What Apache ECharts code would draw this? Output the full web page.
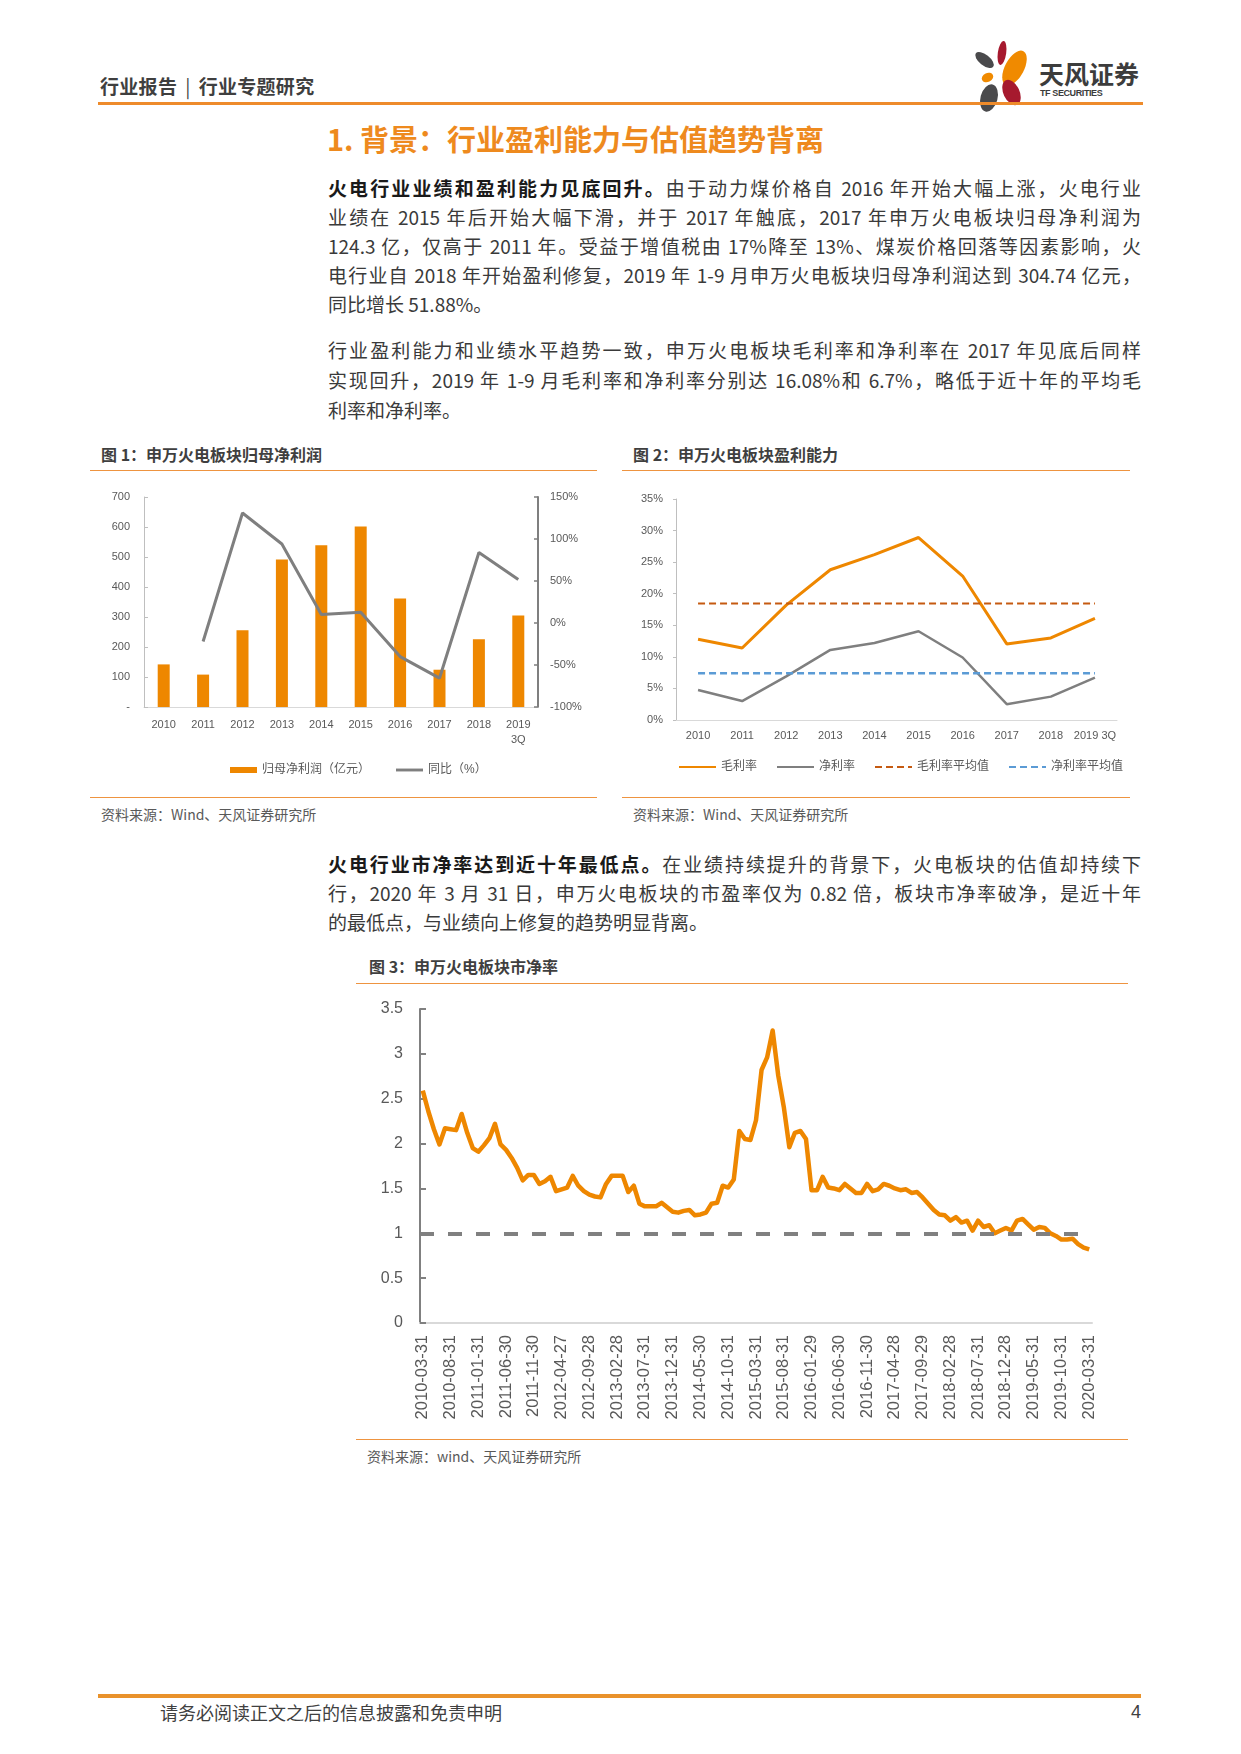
<!DOCTYPE html>
<html><head><meta charset="utf-8">
<script src="https://cdn.jsdelivr.net/npm/echarts@6/dist/echarts.min.js"></script>
<style>
html,body{margin:0;padding:0;background:#fff;}
body{width:1241px;height:1754px;position:relative;overflow:hidden;font-family:"Noto Sans CJK SC","Liberation Sans",sans-serif;}
.abs{position:absolute;}
.hr{position:absolute;background:#EE9440;}
.ln{position:absolute;left:328px;width:813px;height:29px;line-height:29px;font-size:19px;color:#3a3a3a;}
.j{text-align:justify;text-align-last:justify;}
.ln b{color:#1a1a1a;font-weight:bold;}
.ct{position:absolute;font-size:16px;font-weight:bold;color:#3f3f3f;line-height:20px;height:20px;white-space:nowrap;}
.src{position:absolute;font-size:14px;color:#595959;line-height:18px;height:18px;white-space:nowrap;}
</style></head>
<body>
<!-- header -->
<div class="abs" style="left:100px;top:74px;font-size:19px;font-weight:bold;color:#3f3f3f;line-height:24px;white-space:nowrap;letter-spacing:0.3px;">行业报告<span style="font-weight:normal;margin:0 8px;">|</span>行业专题研究</div>
<svg class="abs" style="left:968px;top:36px;" width="64" height="80" viewBox="968 36 64 80">
  <ellipse cx="1002" cy="53" rx="4.2" ry="12" fill="#A6192E" transform="rotate(8 1002 53)"/>
  <ellipse cx="984.5" cy="60" rx="11" ry="5.3" fill="#4A4A4C" transform="rotate(38 984.5 60)"/>
  <ellipse cx="1014.5" cy="68" rx="9.5" ry="19" fill="#F08A00" transform="rotate(28 1014.5 68)"/>
  <ellipse cx="987.5" cy="77.5" rx="6" ry="4.5" fill="#F08A00" transform="rotate(-25 987.5 77.5)"/>
  <ellipse cx="989" cy="98" rx="8.5" ry="14" fill="#4A4A4C" transform="rotate(15 989 98)"/>
  <ellipse cx="1011.5" cy="92.5" rx="8" ry="13.5" fill="#A6192E" transform="rotate(-25 1011.5 92.5)"/>
</svg>
<div class="abs" style="left:1039px;top:58px;font-size:25px;font-weight:bold;color:#3c3c3c;line-height:30px;white-space:nowrap;">天风证券</div>
<div class="abs" style="left:1040px;top:88px;font-size:9px;font-weight:bold;color:#3c3c3c;line-height:11px;letter-spacing:-0.4px;font-family:'Liberation Sans',sans-serif;white-space:nowrap;">TF SECURITIES</div>
<div class="hr" style="left:98px;top:102px;width:1045px;height:3px;background:#EE8B2B;"></div>

<!-- section title -->
<div class="abs" style="left:327px;top:120px;font-size:29px;font-weight:bold;color:#EE8A1E;line-height:36px;white-space:nowrap;">1. 背景：行业盈利能力与估值趋势背离</div>

<!-- paragraph 1 -->
<div class="ln j" style="top:173px;"><b>火电行业业绩和盈利能力见底回升。</b>由于动力煤价格自 2016 年开始大幅上涨，火电行业</div>
<div class="ln j" style="top:202px;">业绩在 2015 年后开始大幅下滑，并于 2017 年触底，2017 年申万火电板块归母净利润为</div>
<div class="ln j" style="top:231px;">124.3 亿，仅高于 2011 年。受益于增值税由 17%降至 13%、煤炭价格回落等因素影响，火</div>
<div class="ln j" style="top:260px;">电行业自 2018 年开始盈利修复，2019 年 1-9 月申万火电板块归母净利润达到 304.74 亿元，</div>
<div class="ln" style="top:289px;">同比增长 51.88%。</div>
<!-- paragraph 2 -->
<div class="ln j" style="top:335px;">行业盈利能力和业绩水平趋势一致，申万火电板块毛利率和净利率在 2017 年见底后同样</div>
<div class="ln j" style="top:365px;">实现回升，2019 年 1-9 月毛利率和净利率分别达 16.08%和 6.7%，略低于近十年的平均毛</div>
<div class="ln" style="top:395px;">利率和净利率。</div>

<!-- figure 1 & 2 frames -->
<div class="ct" style="left:101px;top:444px;">图 1：申万火电板块归母净利润</div>
<div class="hr" style="left:90px;top:470px;width:507px;height:1px;"></div>
<div class="hr" style="left:90px;top:797px;width:507px;height:1px;"></div>
<div class="src" style="left:101px;top:805px;">资料来源：Wind、天风证券研究所</div>

<div class="ct" style="left:633px;top:444px;">图 2：申万火电板块盈利能力</div>
<div class="hr" style="left:622px;top:470px;width:508px;height:1px;"></div>
<div class="hr" style="left:622px;top:797px;width:508px;height:1px;"></div>
<div class="src" style="left:633px;top:805px;">资料来源：Wind、天风证券研究所</div>

<div id="c1" class="abs" style="left:92px;top:475px;width:505px;height:320px;"></div>
<div id="c2" class="abs" style="left:622px;top:475px;width:508px;height:320px;"></div>

<!-- paragraph 3 -->
<div class="ln j" style="top:849px;"><b>火电行业市净率达到近十年最低点。</b>在业绩持续提升的背景下，火电板块的估值却持续下</div>
<div class="ln j" style="top:878px;">行，2020 年 3 月 31 日，申万火电板块的市盈率仅为 0.82 倍，板块市净率破净，是近十年</div>
<div class="ln" style="top:907px;">的最低点，与业绩向上修复的趋势明显背离。</div>

<!-- figure 3 -->
<div class="ct" style="left:369px;top:956px;">图 3：申万火电板块市净率</div>
<div class="hr" style="left:356px;top:983px;width:772px;height:1px;"></div>
<div id="c3" class="abs" style="left:356px;top:985px;width:772px;height:453px;"></div>
<div class="hr" style="left:356px;top:1439px;width:772px;height:1px;"></div>
<div class="src" style="left:367px;top:1447px;">资料来源：wind、天风证券研究所</div>

<!-- footer -->
<div class="hr" style="left:98px;top:1694px;width:1043px;height:4px;background:#E9922B;"></div>
<div class="abs" style="left:160px;top:1700px;font-size:18px;color:#404040;line-height:24px;white-space:nowrap;">请务必阅读正文之后的信息披露和免责申明</div>
<div class="abs" style="left:1100px;width:41px;text-align:right;top:1700px;font-size:18px;color:#404040;line-height:24px;font-family:'Liberation Sans',sans-serif;">4</div>

<script>
// ---------- Figure 1 data ----------
const c1Years = ['2010','2011','2012','2013','2014','2015','2016','2017','2018','2019\n3Q'];
const c1Profit = [142, 108, 256, 492, 539, 602, 362, 124.3, 226, 304.74];
const c1Yoy = [null, -22, 131, 94, 10, 12.7, -40, -65.7, 84, 51.88];
const c1LeftTicks = [0, 700, 100];
const c1RightTicks = [-100, 150, 50];

// ---------- Figure 2 data ----------
const c2Years = ['2010','2011','2012','2013','2014','2015','2016','2017','2018','2019 3Q'];
const c2Gross = [12.8, 11.4, 18.2, 23.8, 26.2, 28.9, 22.8, 12.05, 13.0, 16.08];
const c2Net = [4.76, 3.0, 6.9, 11.1, 12.2, 14.06, 9.9, 2.5, 3.7, 6.7];
const c2GrossAvg = [18.45, 18.45, 18.45, 18.45, 18.45, 18.45, 18.45, 18.45, 18.45, 18.45];
const c2NetAvg = [7.4, 7.4, 7.4, 7.4, 7.4, 7.4, 7.4, 7.4, 7.4, 7.4];

// ---------- Figure 3 data ----------
const c3Dates = [
'2010-03-31','2010-04-30','2010-05-31','2010-06-30','2010-07-30','2010-08-31','2010-09-30','2010-10-29','2010-11-30','2010-12-31',
'2011-01-31','2011-02-28','2011-03-31','2011-04-29','2011-05-31','2011-06-30','2011-07-29','2011-08-31','2011-09-30','2011-10-31','2011-11-30','2011-12-30',
'2012-01-31','2012-02-29','2012-03-30','2012-04-27','2012-05-31','2012-06-29','2012-07-31','2012-08-31','2012-09-28','2012-10-31','2012-11-30','2012-12-31',
'2013-01-31','2013-02-28','2013-03-29','2013-04-26','2013-05-31','2013-06-28','2013-07-31','2013-08-30','2013-09-30','2013-10-31','2013-11-29','2013-12-31',
'2014-01-30','2014-02-28','2014-03-31','2014-04-30','2014-05-30','2014-06-30','2014-07-31','2014-08-29','2014-09-30','2014-10-31','2014-11-28','2014-12-31',
'2015-01-30','2015-02-27','2015-03-31','2015-04-30','2015-05-29','2015-06-30','2015-07-31','2015-08-31','2015-09-30','2015-10-30','2015-11-30','2015-12-31',
'2016-01-29','2016-02-29','2016-03-31','2016-04-29','2016-05-31','2016-06-30','2016-07-29','2016-08-31','2016-09-30','2016-10-31','2016-11-30','2016-12-30',
'2017-01-26','2017-02-28','2017-03-31','2017-04-28','2017-05-31','2017-06-30','2017-07-31','2017-08-31','2017-09-29','2017-10-31','2017-11-30','2017-12-29',
'2018-01-31','2018-02-28','2018-03-30','2018-04-27','2018-05-31','2018-06-29','2018-07-31','2018-08-31','2018-09-28','2018-10-31','2018-11-30','2018-12-28',
'2019-01-31','2019-02-28','2019-03-29','2019-04-30','2019-05-31','2019-06-28','2019-07-31','2019-08-30','2019-09-30','2019-10-31','2019-11-29','2019-12-31',
'2020-01-23','2020-02-28','2020-03-31'
];
const c3PB = [
2.59,2.36,2.16,1.99,2.17,2.16,2.15,2.33,2.12,1.95,
1.91,1.98,2.06,2.22,1.99,1.93,1.84,1.73,1.59,1.65,1.65,1.55,
1.58,1.63,1.47,1.49,1.51,1.64,1.53,1.47,1.43,1.41,1.40,1.55,
1.64,1.64,1.64,1.46,1.53,1.33,1.30,1.30,1.30,1.34,1.29,1.24,
1.23,1.25,1.26,1.20,1.21,1.23,1.33,1.34,1.53,1.51,1.60,2.14,
2.05,2.04,2.26,2.82,2.96,3.26,2.76,2.41,1.96,2.12,2.14,2.05,
1.48,1.48,1.63,1.51,1.50,1.48,1.55,1.50,1.45,1.45,1.55,1.47,
1.49,1.55,1.53,1.50,1.48,1.49,1.45,1.46,1.40,1.33,1.26,1.21,
1.20,1.14,1.18,1.12,1.14,1.03,1.14,1.07,1.09,1.00,1.03,1.06,
1.03,1.14,1.16,1.10,1.04,1.07,1.06,1.00,0.97,0.93,0.93,0.94,
0.88,0.84,0.82
];
const c3Ticks = [0, 3.5, 0.5];
const c3Reference = 1;

const FONT = "'Liberation Sans','Noto Sans CJK SC',sans-serif";
const ORANGE = '#EE8700';
const GRAY = '#7F7F7F';
const LBL = '#595959';

// ---------- Chart 1 ----------
const ch1 = echarts.init(document.getElementById('c1'), null, {renderer:'canvas'});
ch1.setOption({
  animation:false,
  textStyle:{fontFamily:FONT},
  grid:{left:52, right:59, top:22, height:210},
  legend:{
    left:133, top:284, itemGap:26, itemWidth:27, itemHeight:6,
    textStyle:{fontSize:12, color:LBL, fontFamily:FONT},
    data:[{name:'归母净利润（亿元）', icon:'rect'},{name:'同比（%）', icon:'path://M0,0H28V3H0Z'}]
  },
  xAxis:{
    type:'category', data:c1Years, boundaryGap:true,
    axisLine:{lineStyle:{color:'#D9D9D9', width:1}},
    axisTick:{show:false},
    axisLabel:{color:LBL, fontSize:11, margin:10, interval:0, lineHeight:15}
  },
  yAxis:[
    {type:'value', min:c1LeftTicks[0], max:c1LeftTicks[1], interval:c1LeftTicks[2],
     axisLine:{show:true, lineStyle:{color:'#BFBFBF', width:1}},
     axisTick:{show:true, inside:true, length:4, lineStyle:{color:'#BFBFBF'}},
     splitLine:{show:false},
     axisLabel:{color:LBL, fontSize:11, margin:14, formatter:v=> v===0 ? '-' : String(v)}},
    {type:'value', min:c1RightTicks[0], max:c1RightTicks[1], interval:c1RightTicks[2], position:'right',
     axisLine:{show:true, lineStyle:{color:'#7F7F7F', width:2}},
     axisTick:{show:true, inside:true, length:4, lineStyle:{color:'#7F7F7F', width:1.5}},
     splitLine:{show:false},
     axisLabel:{color:LBL, fontSize:11, margin:12, formatter:v=> v+'%'}}
  ],
  series:[
    {name:'归母净利润（亿元）', type:'bar', data:c1Profit, barWidth:12, itemStyle:{color:ORANGE}, yAxisIndex:0},
    {name:'同比（%）', type:'line', data:c1Yoy, yAxisIndex:1, symbol:'none', connectNulls:false,
     lineStyle:{color:GRAY, width:3}, itemStyle:{color:GRAY}}
  ]
});

// ---------- Chart 2 ----------
const ch2 = echarts.init(document.getElementById('c2'), null, {renderer:'canvas'});
ch2.setOption({
  animation:false,
  textStyle:{fontFamily:FONT},
  grid:{left:54, right:13, top:24, height:221},
  legend:{
    left:51, top:281, itemGap:19, itemWidth:37, itemHeight:4,
    itemStyle:{opacity:0},
    textStyle:{fontSize:12, color:LBL, fontFamily:FONT},
    data:['毛利率','净利率','毛利率平均值','净利率平均值']
  },
  xAxis:{
    type:'category', data:c2Years, boundaryGap:true,
    axisLine:{lineStyle:{color:'#D9D9D9', width:1}},
    axisTick:{show:false},
    axisLabel:{color:LBL, fontSize:11, margin:10, interval:0}
  },
  yAxis:{
    type:'value', min:0, max:35, interval:5,
    axisLine:{show:true, lineStyle:{color:'#BFBFBF', width:1}},
    axisTick:{show:true, length:3, lineStyle:{color:'#BFBFBF'}},
    splitLine:{show:false},
    axisLabel:{color:LBL, fontSize:11, margin:13, formatter:v=> v+'%'}
  },
  series:[
    {name:'毛利率', type:'line', data:c2Gross, symbol:'none', lineStyle:{color:ORANGE, width:3}, itemStyle:{color:ORANGE}},
    {name:'净利率', type:'line', data:c2Net, symbol:'none', lineStyle:{color:GRAY, width:2.5}, itemStyle:{color:GRAY}},
    {name:'毛利率平均值', type:'line', data:c2GrossAvg, symbol:'none', lineStyle:{color:'#C55A11', width:2, type:[7,4]}, itemStyle:{color:'#C55A11'}},
    {name:'净利率平均值', type:'line', data:c2NetAvg, symbol:'none', lineStyle:{color:'#5B9BD5', width:2.5, type:[7,4]}, itemStyle:{color:'#5B9BD5'}}
  ]
});

// ---------- Chart 3 ----------
const ch3 = echarts.init(document.getElementById('c3'), null, {renderer:'canvas'});
ch3.setOption({
  animation:false,
  textStyle:{fontFamily:FONT},
  grid:{left:64, right:36, top:24, height:314},
  xAxis:{
    type:'category', data:c3Dates, boundaryGap:true,
    axisLine:{lineStyle:{color:'#D9D9D9', width:2}},
    axisTick:{show:false},
    axisLabel:{color:LBL, fontSize:16.5, rotate:90, margin:12, interval:4}
  },
  yAxis:{
    type:'value', min:c3Ticks[0], max:c3Ticks[1], interval:c3Ticks[2],
    axisLine:{show:true, lineStyle:{color:'#808080', width:2}},
    axisTick:{show:true, inside:true, length:6, lineStyle:{color:'#808080', width:2}},
    splitLine:{show:false},
    axisLabel:{color:LBL, fontSize:16, margin:17}
  },
  series:[
    {name:'市净率', type:'line', data:c3PB, symbol:'none',
     lineStyle:{color:ORANGE, width:4.5, join:'round'}, itemStyle:{color:ORANGE},
     markLine:{silent:true, symbol:['none','none'], label:{show:false},
       lineStyle:{color:'#808080', width:4, type:[14,14]},
       data:[{yAxis:c3Reference}]}}
  ]
});
</script>
</body></html>
